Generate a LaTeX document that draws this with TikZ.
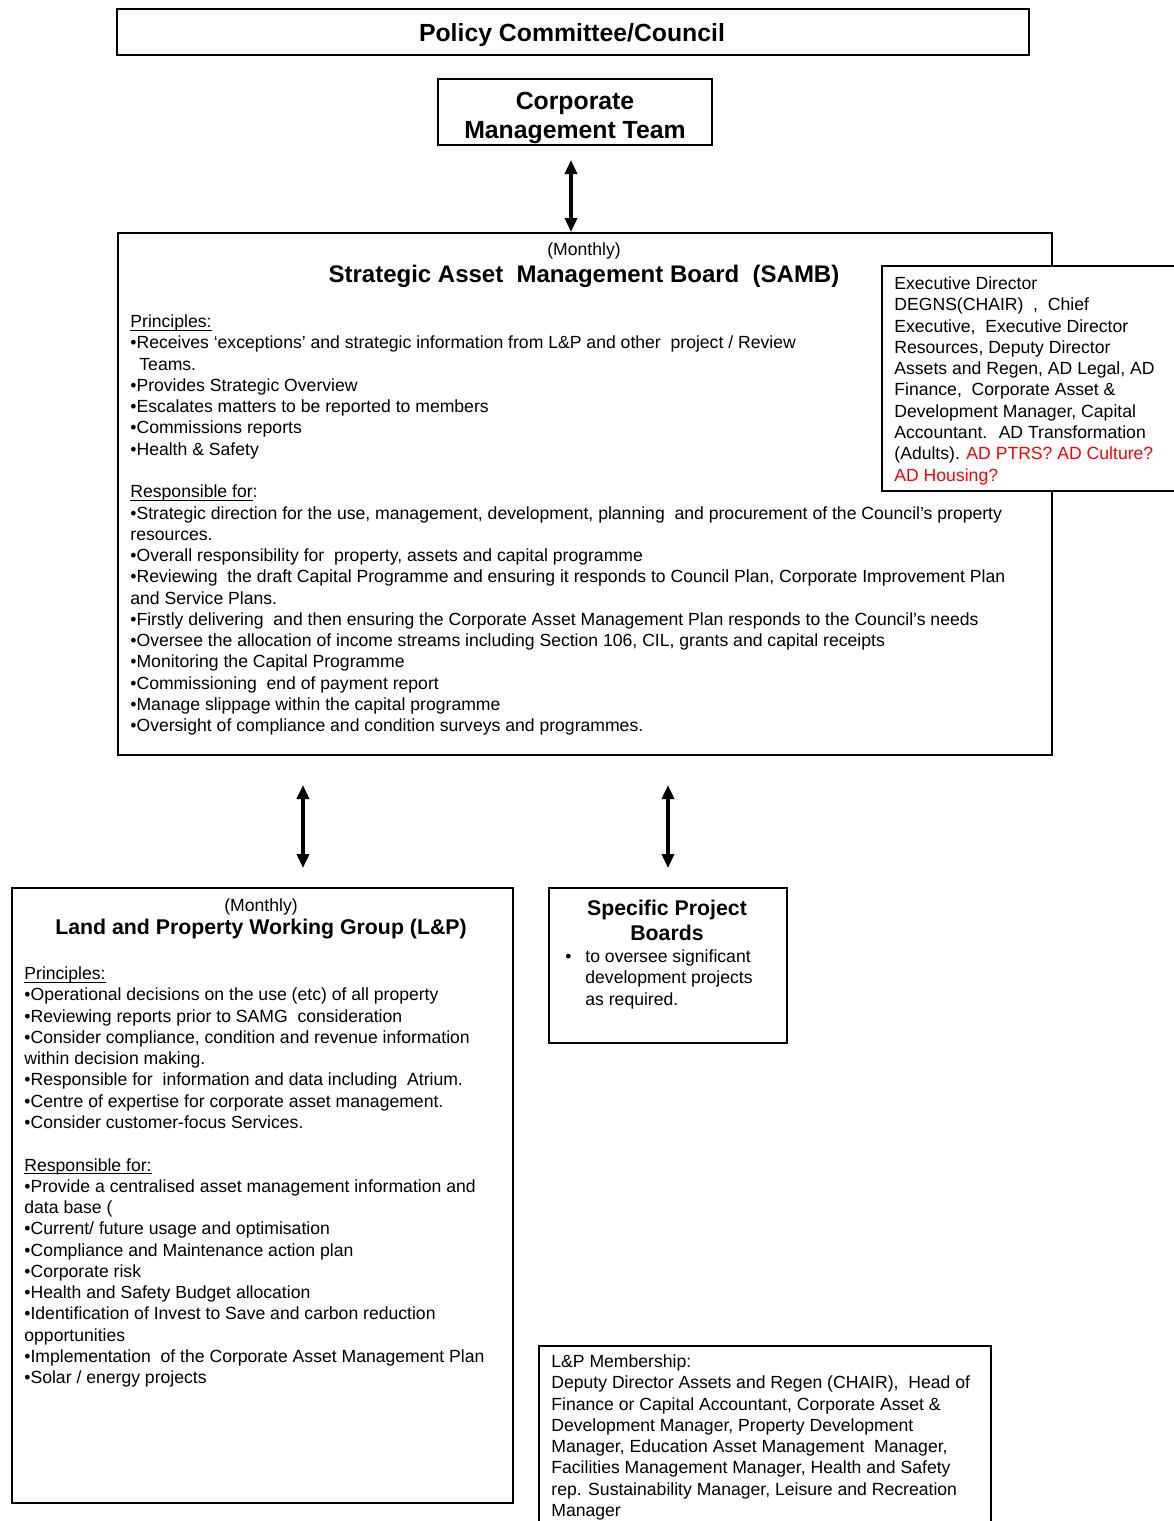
\documentclass[tikz,border=0pt]{standalone}
\usepackage{fontspec}
\setmainfont{Liberation Sans}
\usepackage{tikz}
\usetikzlibrary{positioning}
\usetikzlibrary{arrows.meta}

\newcommand{\bodyfont}{\fontsize{8.8}{10.63}\selectfont}
\newcommand{\headfont}{\fontsize{12.4}{14.5}\selectfont\bfseries}
\newcommand{\titlefont}{\fontsize{12}{14.5}\selectfont\bfseries}
\newcommand{\subheadfont}{\fontsize{10.65}{12.5}\selectfont\bfseries}
\newcommand{\ulhead}[1]{\underline{\smash{#1}}\vphantom{#1}}

\begin{document}
\begin{tikzpicture}[x=0.5pt,y=-0.5pt,
    box/.style={draw=black, line width=1pt, inner sep=0pt, fill=white},
    body/.style={inner sep=0pt, anchor=north west, align=left, font=\bodyfont},
    link/.style={line width=2pt, {Triangle[width=6pt,length=7pt]}-{Triangle[width=6pt,length=7pt]}}]
\useasboundingbox (0,0) rectangle (1173,1521);

% top of the tree
\node[box, minimum width=456pt, minimum height=23pt] (policy) at (573,32) {};
\node[inner sep=0pt, font=\headfont] (policyTitle) at (572,35.5) {Policy Committee/Council};
\node[box, minimum width=137pt, minimum height=33pt] (cmt) at (575,112) {};
\node[inner sep=0pt, font=\headfont, align=center] (cmtTitle) at (575,117.5) {Corporate\\Management Team};

% strategic board
\node[box, anchor=north west, minimum width=467pt, minimum height=261pt] (samb) at (117,232) {};
\node[inner sep=0pt, font=\bodyfont] (sambMonthly) at (584,250.5) {(Monthly)};
\node[inner sep=0pt, font=\titlefont] (sambTitle) at (584,276.5) {Strategic Asset \ Management Board \ (SAMB)};
\node[body] (sambText) at (130,314.5) {\ulhead{Principles:}\\
•Receives ‘exceptions’ and strategic information from L\&P and other \ project / Review\\
\hspace*{4.5pt}Teams.\\
•Provides Strategic Overview\\
•Escalates matters to be reported to members\\
•Commissions reports\\
•Health \& Safety\\
\\
\ulhead{Responsible for}:\\
•Strategic direction for the use, management, development, planning \ and procurement of the Council’s property\\
resources.\\
•Overall responsibility for \ property, assets and capital programme\\
•Reviewing \ the draft Capital Programme and ensuring it responds to Council Plan, Corporate Improvement Plan\\
and Service Plans.\\
•Firstly delivering \ and then ensuring the Corporate Asset Management Plan responds to the Council’s needs\\
•Oversee the allocation of income streams including Section 106, CIL, grants and capital receipts\\
•Monitoring the Capital Programme\\
•Commissioning \ end of payment report\\
•Manage slippage within the capital programme\\
•Oversight of compliance and condition surveys and programmes.};

% members of the board
\node[box, anchor=north west, minimum width=150pt, minimum height=112.5pt] (sambMembers) at (881,265) {};
\node[body] (sambMembersText) at (894,276.5) {Executive Director\\
DEGNS(CHAIR) \ , \ Chief\\
Executive, \ Executive Director\\
Resources, Deputy Director\\
Assets and Regen, AD Legal, AD\\
Finance, \ Corporate Asset \&\\
Development Manager, Capital\\
Accountant. \ AD Transformation\\
(Adults). \textcolor{red}{AD PTRS? AD Culture?}\\
\textcolor{red}{AD Housing?}};

% working group
\node[box, anchor=north west, minimum width=250.5pt, minimum height=307.5pt] (lpgroup) at (11,887) {};
\node[inner sep=0pt, font=\bodyfont] (lpMonthly) at (261,906.5) {(Monthly)};
\node[inner sep=0pt, font=\subheadfont] (lpTitle) at (261,929.5) {Land and Property Working Group (L\&P)};
\node[body] (lpText) at (24,966.5) {\ulhead{Principles:}\\
•Operational decisions on the use (etc) of all property\\
•Reviewing reports prior to SAMG \ consideration\\
•Consider compliance, condition and revenue information\\
within decision making.\\
•Responsible for \ information and data including \ Atrium.\\
•Centre of expertise for corporate asset management.\\
•Consider customer-focus Services.\\
\\
\ulhead{Responsible for:}\\
•Provide a centralised asset management information and\\
data base (\\
•Current/ future usage and optimisation\\
•Compliance and Maintenance action plan\\
•Corporate risk\\
•Health and Safety Budget allocation\\
•Identification of Invest to Save and carbon reduction\\
opportunities\\
•Implementation \ of the Corporate Asset Management Plan\\
•Solar / energy projects};

% project boards
\node[box, anchor=north west, minimum width=119pt, minimum height=77.5pt] (spb) at (548,887) {};
\node[inner sep=0pt, font=\subheadfont, align=center] (spbTitle) at (667,920.5) {Specific Project\\Boards};
\node[body] (spbText) at (559,949.5) {\makebox[13pt][l]{\hspace{3pt}•}to oversee significant\\
\hspace*{13pt}development projects\\
\hspace*{13pt}as required.};

% membership of the working group
\node[box, anchor=north west, minimum width=226pt, minimum height=95pt] (lpMembers) at (538,1345) {};
\node[body] (lpMembersText) at (551,1354.5) {L\&P Membership:\\
Deputy Director Assets and Regen (CHAIR), \ Head of\\
Finance or Capital Accountant, Corporate Asset \&\\
Development Manager, Property Development\\
Manager, Education Asset Management \ Manager,\\
Facilities Management Manager, Health and Safety\\
rep. Sustainability Manager, Leisure and Recreation\\
Manager};

\coordinate (cmtLink) at (571,145);
\coordinate (lpLink) at (303,887);

\draw[link, shorten <=7.5pt] (cmtLink) -- (cmtLink |- samb.north);
\draw[link, shorten <=14.5pt, shorten >=9.5pt] (samb.south -| lpLink) -- (lpLink);
\draw[link, shorten <=14.5pt, shorten >=9.5pt] (samb.south -| spb.north) -- (spb.north);
\end{tikzpicture}
\end{document}
